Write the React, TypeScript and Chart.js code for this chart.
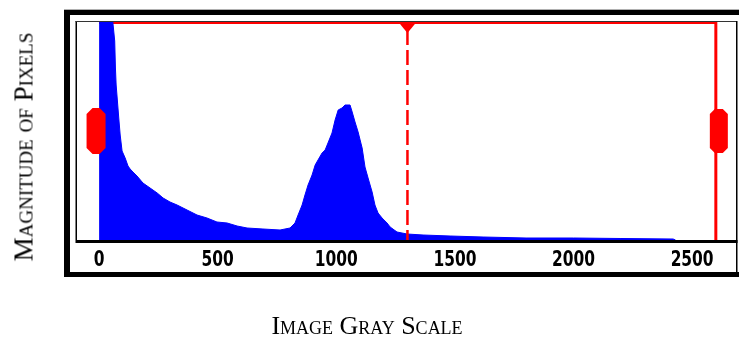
import React, { useEffect, useRef } from "react";
import { Chart, registerables } from "chart.js";

Chart.register(...registerables);

// Histogram (gray level -> magnitude, in plot units where plot top = 218)
const grayLevels = [
  0, 50, 58, 66, 69, 72, 83, 89, 97, 110,
  122, 131, 143, 160, 185, 215, 245, 270, 299, 329,
  371, 413, 455, 497, 540, 582, 624, 691, 763, 805,
  826, 839, 856, 868, 881, 898, 911, 923, 940, 953,
  965, 982, 995, 1008, 1024, 1037, 1058, 1067, 1079, 1092,
  1109, 1121, 1134, 1151, 1163, 1176, 1193, 1214, 1227, 1256,
  1298, 1366, 1480, 1619, 1800, 2000, 2200, 2420, 2430,
];
const magnitudes = [
  300, 240, 218, 199, 172, 155, 122, 105, 89, 82,
  74, 71, 68, 64, 57, 52, 47, 42, 38, 35,
  30, 25, 22, 18, 17, 14, 12, 11, 10, 12,
  17, 25, 35, 45, 55, 65, 75, 80, 87, 90,
  97, 107, 120, 130, 132, 135, 135, 128, 118, 108,
  92, 73, 62, 48, 35, 27, 22, 17, 13, 8,
  6, 5, 4, 3, 2, 2, 1.5, 1, 0,
];
const tickValues = [0, 500, 1000, 1500, 2000, 2500];
const rangeMarkers = [0, 2600];
const thresholdMarker = [1300];
const xRange = [-93, 2685];
const yRange = [0, 218];

const xTitle = "Image Gray Scale";
const yTitle = "Magnitude of Pixels";

const labelSquash = 0.78;

function octagon(ctx: CanvasRenderingContext2D, cx: number, cy: number, w: number, h: number, c: number) {
  const l = cx - w / 2, r = cx + w / 2, t = cy - h / 2, b = cy + h / 2;
  ctx.beginPath();
  ctx.moveTo(l + c, t);
  ctx.lineTo(r - c, t);
  ctx.lineTo(r, t + c);
  ctx.lineTo(r, b - c);
  ctx.lineTo(r - c, b);
  ctx.lineTo(l + c, b);
  ctx.lineTo(l, b - c);
  ctx.lineTo(l, t + c);
  ctx.closePath();
  ctx.fill();
}

const decor = {
  id: "decor",
  beforeDraw(chart: any) {
    const { ctx, width, height } = chart;
    ctx.save();
    ctx.fillStyle = "#ffffff";
    ctx.fillRect(0, 0, width, height);
    ctx.restore();
  },
  beforeDatasetsDraw(chart: any) {
    const { ctx, chartArea, scales } = chart;
    const x = scales.x;
    ctx.save();
    ctx.strokeStyle = "#ff0000";
    ctx.lineWidth = 2;
    ctx.beginPath();
    ctx.moveTo(x.getPixelForValue(rangeMarkers[0]), chartArea.top + 1);
    ctx.lineTo(x.getPixelForValue(rangeMarkers[1]), chartArea.top + 1);
    ctx.stroke();
    ctx.restore();
  },
  afterDatasetsDraw(chart: any) {
    const { ctx, chartArea, scales } = chart;
    const { left, right, top, bottom } = chartArea;
    const x = scales.x;
    const y = scales.y;
    ctx.save();
    // threshold dashed line
    const tx = x.getPixelForValue(thresholdMarker[0]);
    ctx.strokeStyle = "#ff0000";
    ctx.lineWidth = 2.5;
    ctx.setLineDash([15, 5]);
    ctx.beginPath();
    ctx.moveTo(tx, top + 8);
    ctx.lineTo(tx, bottom);
    ctx.stroke();
    ctx.setLineDash([]);
    // triangle marker
    ctx.fillStyle = "#ff0000";
    ctx.beginPath();
    ctx.moveTo(tx - 9, top);
    ctx.lineTo(tx + 9, top);
    ctx.lineTo(tx + 5, top + 5);
    ctx.lineTo(tx, top + 11);
    ctx.lineTo(tx - 5, top + 5);
    ctx.closePath();
    ctx.fill();
    // upper range solid line
    const ux = x.getPixelForValue(rangeMarkers[1]);
    ctx.lineWidth = 3;
    ctx.beginPath();
    ctx.moveTo(ux, top);
    ctx.lineTo(ux, bottom);
    ctx.stroke();
    // handles
    const hy = y.getPixelForValue(yRange[1] * 0.5);
    const lx = x.getPixelForValue(rangeMarkers[0]);
    octagon(ctx, lx - 3, hy, 19, 46, 6);
    octagon(ctx, ux + 3, hy, 18, 44, 5);
    // inner box
    ctx.fillStyle = "#000000";
    ctx.fillRect(left - 1.5, top - 1, 1.5, bottom - top + 1);
    ctx.fillStyle = "#333333";
    ctx.fillRect(left - 1.5, top - 1, right - left + 2, 1);
    ctx.fillStyle = "#000000";
    ctx.fillRect(right, top - 1, 1.5, bottom - top + 35);
    ctx.fillRect(left - 1.5, bottom, right - left + 3, 3);
    // outer thick frame
    ctx.fillStyle = "#000000";
    ctx.fillRect(64, 10, 700, 5);
    ctx.fillRect(64, 10, 6, 267);
    ctx.fillRect(64, 272, 700, 5);
    ctx.fillStyle = "#b0b0b0";
    ctx.fillRect(64, 9, 700, 1);
    ctx.restore();
  },
};

export default function App() {
  const ref = useRef<HTMLCanvasElement | null>(null);
  useEffect(() => {
    document.body.style.margin = "0";
    const canvas = ref.current;
    if (!canvas) return;
    const chart = new Chart(canvas, {
      type: "line",
      data: {
        datasets: [
          {
            data: grayLevels.map((g, i) => ({ x: g, y: magnitudes[i] })),
            fill: "origin",
            backgroundColor: "#0000ff",
            borderColor: "#0000ff",
            borderWidth: 1,
            pointRadius: 0,
            tension: 0,
          },
        ],
      },
      options: {
        animation: false,
        responsive: false,
        devicePixelRatio: 1,
        layout: { padding: { left: 77, right: 3, top: 22, bottom: 0 } },
        plugins: { legend: { display: false }, tooltip: { enabled: false } },
        scales: {
          x: {
            type: "linear",
            min: xRange[0],
            max: xRange[1],
            grid: { display: false, drawTicks: false },
            border: { display: false },
            afterBuildTicks: (s: any) => {
              s.ticks = tickValues.map((v) => ({ value: v }));
            },
            afterFit: (s: any) => {
              s.height = 101;
            },
            afterUpdate: (s: any) => {
              if (s._squashed) return;
              s._squashed = true;
              const orig = s.drawLabels;
              s.drawLabels = function (area: any) {
                const ctx = this.ctx;
                const origRotate = ctx.rotate;
                ctx.rotate = function (a: number) {
                  origRotate.call(ctx, a);
                  ctx.scale(labelSquash, 1);
                };
                try {
                  orig.call(this, area);
                } finally {
                  ctx.rotate = origRotate;
                }
              };
            },
            ticks: {
              autoSkip: false,
              maxRotation: 0,
              padding: 7,
              color: "#000000",
              callback: (v: any) => String(v),
              font: { family: "'DejaVu Sans Condensed', 'DejaVu Sans', sans-serif", size: 22, weight: "bold" },
            },
          },
          y: {
            type: "linear",
            min: yRange[0],
            max: yRange[1],
            display: false,
          },
        },
      },
      plugins: [decor],
    } as any);
    return () => chart.destroy();
  }, []);

  return (
    <div style={{ position: "fixed", left: 0, top: 0, width: 739, height: 341, background: "#fff", overflow: "hidden" }}>
      <canvas ref={ref} width={739} height={341} style={{ width: 739, height: 341, display: "block" }} />
      <div
        style={{
          position: "absolute",
          left: 367,
          top: 313,
          transform: "translateX(-50%)",
          fontFamily: "'Liberation Serif', 'Times New Roman', serif",
          fontVariant: "small-caps",
          fontSize: 26,
          lineHeight: "26px",
          whiteSpace: "nowrap",
          color: "#000",
        }}
      >
        {xTitle}
      </div>
      <div
        style={{
          position: "absolute",
          left: 24,
          top: 147,
          transform: "translate(-50%, -50%) rotate(-90deg)",
          fontFamily: "'Liberation Serif', 'Times New Roman', serif",
          fontVariant: "small-caps",
          fontSize: 27,
          lineHeight: "27px",
          whiteSpace: "nowrap",
          color: "#000",
        }}
      >
        {yTitle}
      </div>
    </div>
  );
}
